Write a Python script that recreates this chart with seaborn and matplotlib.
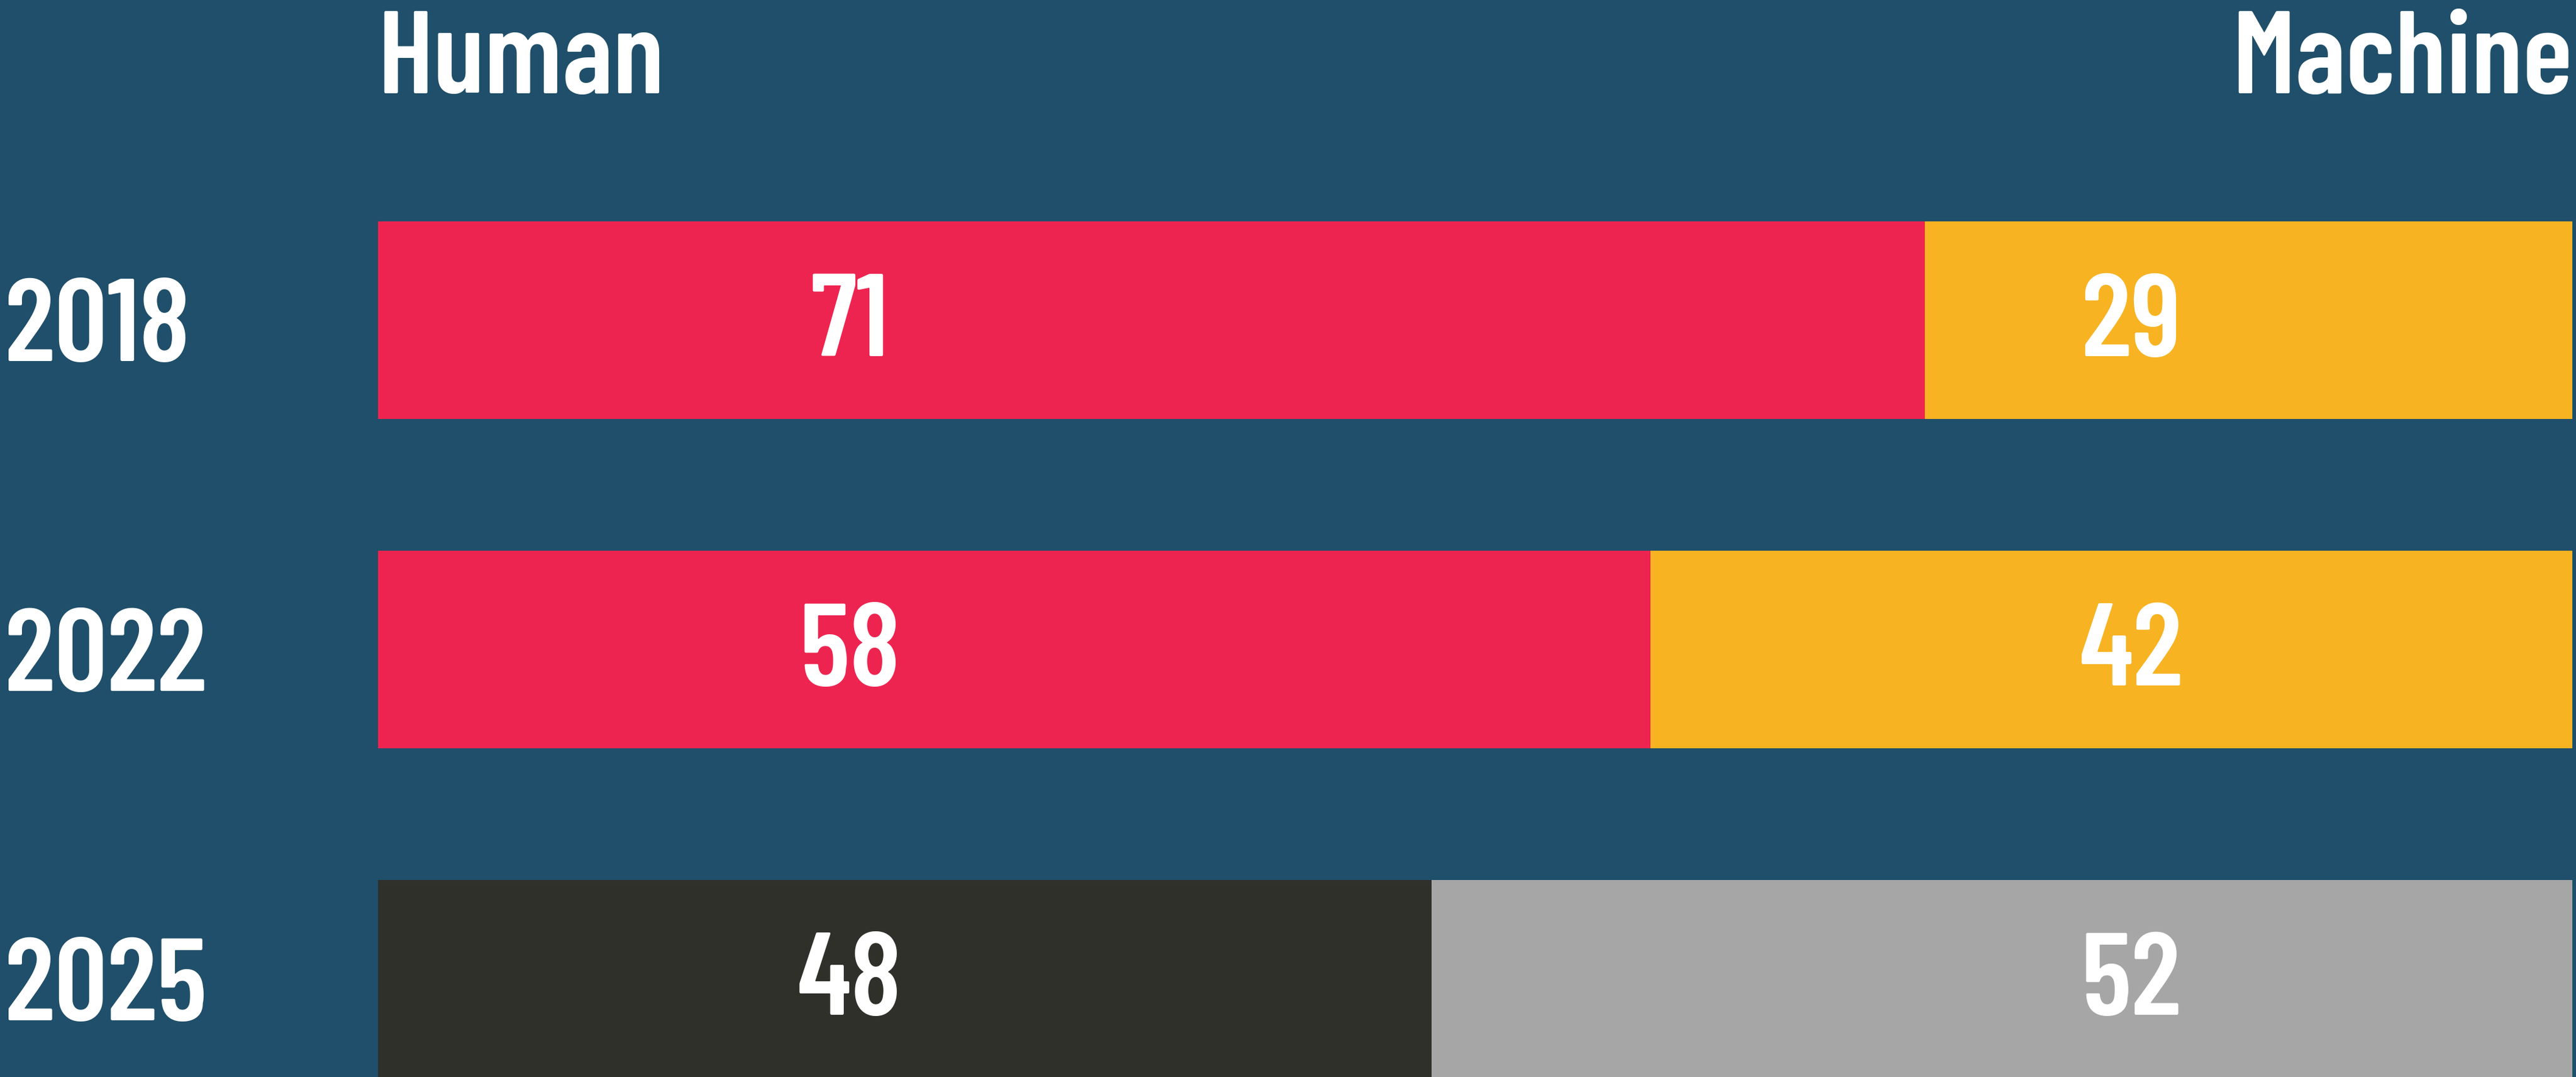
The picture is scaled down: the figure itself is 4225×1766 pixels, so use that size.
# Human vs machine share of work, stacked horizontal bars

import matplotlib
matplotlib.use("Agg")
import matplotlib.pyplot as plt
import pandas as pd
import seaborn as sns

years = ["2018", "2022", "2025"]
human = [70.5, 58, 48]
machine = [29.5, 42, 52]
human_labels = ["71", "58", "48"]
machine_labels = ["29", "42", "52"]
human_colors = ["#EE2450", "#EE2450", "#30302B"]
machine_colors = ["#F7B322", "#F7B322", "#A6A6A6"]

BG = "#1F4F6A"

sns.set_style("white")
plt.rcParams["font.family"] = ["Barlow Condensed", "DejaVu Sans"]

df = pd.DataFrame({"year": years, "human": human, "machine": machine})
df["total"] = df["human"] + df["machine"]

fig = plt.figure(figsize=(42.25, 17.66), dpi=100, facecolor=BG)
ax = fig.add_axes([620 / 4225, 0, 3599 / 4225, 1])
ax.set_facecolor(BG)

# machine share drawn as the full bar, human share on top of it
sns.barplot(data=df, x="total", y="year", hue="year", palette=machine_colors,
            width=0.6, legend=False, ax=ax, orient="h", saturation=1, linewidth=0)
sns.barplot(data=df, x="human", y="year", hue="year", palette=human_colors,
            width=0.6, legend=False, ax=ax, orient="h", saturation=1, linewidth=0)

fs = 138
fw = 600
for i, (h, m) in enumerate(zip(human_labels, machine_labels)):
    ax.text(21.5, i + 0.018, h, ha="center", va="center", color="white",
            fontsize=fs, fontweight=fw)
    ax.text(79.9, i + 0.018, m, ha="center", va="center", color="white",
            fontsize=fs, fontweight=fw)

ax.set_xlim(0, 100)
ax.set_ylim(2.298, -0.972)

ax.text(0, -0.689, "Human", ha="left", va="baseline", color="white",
        fontsize=fs, fontweight=fw)
ax.text(100, -0.689, "Machine", ha="right", va="baseline", color="white",
        fontsize=fs, fontweight=fw)

ax.set_xticks([])
ax.set_yticks(range(len(years)))
ax.set_yticklabels(years, color="white", fontsize=fs, fontweight=fw)
ax.tick_params(axis="y", length=0, pad=(620 - 8) / (100 / 72))
for lab in ax.get_yticklabels():
    lab.set_horizontalalignment("left")
ax.set_xlabel("")
ax.set_ylabel("")
sns.despine(ax=ax, left=True, bottom=True)

fig.savefig("out.png", dpi=100, facecolor=BG)
